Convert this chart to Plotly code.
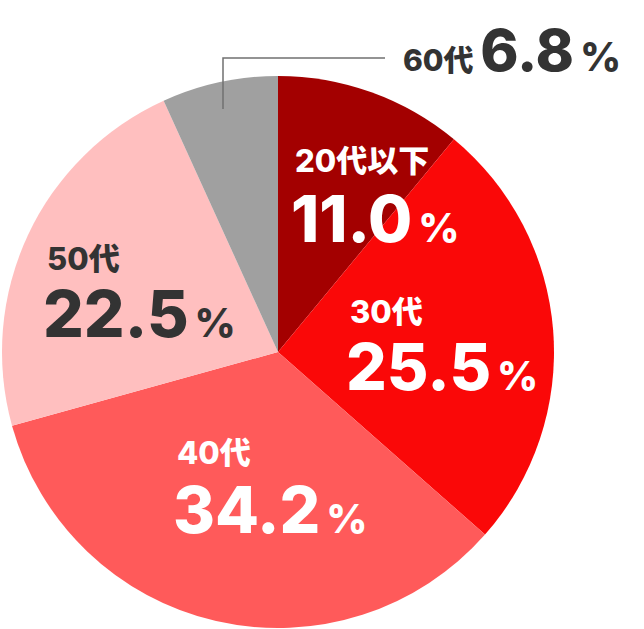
import plotly.graph_objects as go

# Data
ages = ["20代以下", "30代", "40代", "50代", "60代"]
shares = [11.0, 25.5, 34.2, 22.5, 6.8]
colors = ["#A30000", "#FA0808", "#FF5A5A", "#FFBFBF", "#A0A0A0"]
text_colors = ["#FFFFFF", "#FFFFFF", "#FFFFFF", "#333333", "#333333"]

W, H = 644, 629
FONT = "Inter, Noto Sans CJK JP"

# label placement (pixels): (left x, label center y, value center y)
label_pos = [
    (293, 160, 218),
    (348, 311, 366),
    (175, 452, 509),
    (45, 258, 314),
]


def px(x):
    return x / W


def py(y):
    return 1 - y / H


fig = go.Figure(go.Pie(
    labels=ages,
    values=shares,
    sort=False,
    direction="clockwise",
    rotation=0,
    marker=dict(colors=colors, line=dict(width=0)),
    textinfo="none",
    hoverinfo="label+value",
    domain=dict(x=[px(2), px(554)], y=[py(628), py(76)]),
))

annotations = []
for i, (x0, ly, vy) in enumerate(label_pos):
    annotations.append(dict(
        x=px(x0), y=py(ly), xref="paper", yref="paper",
        xanchor="left", yanchor="middle", showarrow=False,
        text=ages[i],
        font=dict(family=FONT, size=31, color=text_colors[i], weight=800),
    ))
    annotations.append(dict(
        x=px(x0 - 4), y=py(vy), xref="paper", yref="paper",
        xanchor="left", yanchor="middle", showarrow=False,
        text=f"{shares[i]:.1f}<span style='font-size:40px'>\u2009%</span>",
        font=dict(family=FONT, size=64, color=text_colors[i], weight=800),
    ))

# 60代 label outside with leader line
annotations.append(dict(
    x=px(401), y=py(50), xref="paper", yref="paper",
    xanchor="left", yanchor="middle", showarrow=False,
    text=f"{ages[4]} <span style='font-size:58px'>{shares[4]:.1f}</span>"
         "<span style='font-size:40px'>\u2009%</span>",
    font=dict(family=FONT, size=30, color=text_colors[4], weight=800),
))

fig.update_layout(
    width=W, height=H,
    margin=dict(l=0, r=0, t=0, b=0),
    paper_bgcolor="white",
    plot_bgcolor="white",
    showlegend=False,
    annotations=annotations,
    shapes=[dict(
        type="path", xref="paper", yref="paper",
        path=f"M {px(385)},{py(58)} L {px(223)},{py(58)} L {px(223)},{py(109)}",
        line=dict(color="#707070", width=1.5),
    )],
)

fig.write_html("out.html", config={"displayModeBar": False},
               post_script="document.body.style.margin='0';")
